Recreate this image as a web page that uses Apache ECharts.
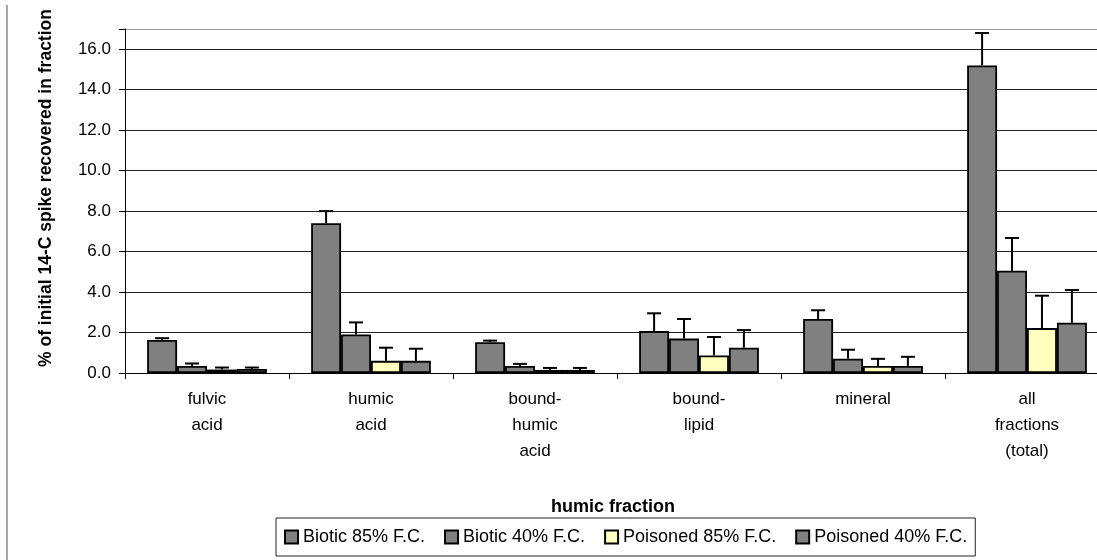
<!DOCTYPE html>
<html>
<head>
<meta charset="utf-8">
<script src="https://cdn.jsdelivr.net/npm/echarts@6/dist/echarts.min.js"></script>
<style>
  html, body { margin: 0; padding: 0; background: #fff; overflow: hidden; }
  /* the plot area runs a little past the right edge of the picture, as in the original */
  #item { width: 1109px; height: 560px; }
</style>
</head>
<body>
<div id="item"></div>
<script>
/** Data */
var categories = ['fulvic\nacid', 'humic\nacid', 'bound-\nhumic\nacid', 'bound-\nlipid', 'mineral', 'all\nfractions\n(total)'];
var seriesNames = ['Biotic 85% F.C.', 'Biotic 40% F.C.', 'Poisoned 85% F.C.', 'Poisoned 40% F.C.'];
var biotic85 = [1.63, 7.4, 1.52, 2.07, 2.67, 15.2];
var biotic40 = [0.35, 1.9, 0.35, 1.7, 0.71, 5.05];
var poisoned85 = [0.17, 0.6, 0.15, 0.87, 0.35, 2.22];
var poisoned40 = [0.2, 0.6, 0.15, 1.25, 0.35, 2.48];
// upper error (+) for each bar
var biotic85Err = [0.09, 0.6, 0.08, 0.88, 0.43, 1.6];
var biotic40Err = [0.12, 0.6, 0.1, 0.97, 0.44, 1.62];
var poisoned85Err = [0.1, 0.65, 0.1, 0.91, 0.35, 1.6];
var poisoned40Err = [0.07, 0.6, 0.1, 0.87, 0.45, 1.62];
var yTicks = [0, 2, 4, 6, 8, 10, 12, 14, 16];

(function(){
  var FONT = 'Liberation Sans, Arial, sans-serif';
  var GAP = 0.27;
  var values = [biotic85, biotic40, poisoned85, poisoned40];
  var errors = [biotic85Err, biotic40Err, poisoned85Err, poisoned40Err];
  var colors = ['#808080', '#808080', '#ffffc0', '#808080'];

  var series = [];
  values.forEach(function(vals, k) {
    series.push({
      name: seriesNames[k],
      type: 'bar',
      data: vals,
      barGap: '0%',
      barCategoryGap: (GAP * 100) + '%',
      itemStyle: { color: colors[k], borderColor: '#000', borderWidth: 1.8 }
    });
  });

  /** error bars, only the upper half like the original */
  values.forEach(function(vals, k) {
    series.push({
      type: 'custom',
      z: 5,
      data: vals.map(function(v, i) { return [i, v, errors[k][i]]; }),
      renderItem: function(params, api) {
        var x = api.value(0), v = api.value(1), e = api.value(2);
        var band = api.size([1, 0])[0];
        var bw = band * (1 - GAP) / 4;
        var base = api.coord([x, v]);
        var top = api.coord([x, v + e]);
        var cx = base[0] + (k - 1.5) * bw;
        var st = { stroke: '#000', lineWidth: 2 };
        return {
          type: 'group',
          children: [
            { type: 'line', shape: { x1: cx, y1: base[1], x2: cx, y2: top[1] }, style: st },
            { type: 'line', shape: { x1: cx - 7, y1: top[1], x2: cx + 7, y2: top[1] }, style: st }
          ]
        };
      }
    });
  });

  var splitColors = yTicks.map(function() { return '#222'; });
  splitColors.push('#999');

  var option = {
    backgroundColor: '#fff',
    animation: false,
    textStyle: { fontFamily: FONT, color: '#000' },
    grid: { left: 125, top: 29, bottom: 187, right: 0 },
    legend: {
      data: seriesNames,
      left: 276,
      top: 518,
      padding: [10, 8],
      itemGap: 19,
      itemWidth: 13,
      itemHeight: 13,
      icon: 'rect',
      borderColor: '#222',
      borderWidth: 1,
      textStyle: { fontFamily: FONT, fontSize: 18, color: '#000' }
    },
    xAxis: {
      type: 'category',
      data: categories,
      axisLine: { lineStyle: { color: '#000', width: 1 } },
      axisTick: { show: true, length: 6, lineStyle: { color: '#000' } },
      axisLabel: { fontFamily: FONT, fontSize: 17, color: '#000', lineHeight: 26, margin: 13, interval: 0 }
    },
    yAxis: {
      type: 'value',
      min: 0,
      max: 17,
      interval: 2,
      axisLine: { show: true, lineStyle: { color: '#000', width: 1 } },
      axisTick: { show: true, length: 6, lineStyle: { color: '#000' } },
      axisLabel: {
        fontFamily: FONT, fontSize: 17, color: '#000', margin: 14,
        formatter: function(v) { return yTicks.indexOf(v) >= 0 ? v.toFixed(1) : ''; }
      },
      splitLine: { show: true, lineStyle: { color: splitColors, width: 1 } }
    },
    graphic: [
      { type: 'line', shape: { x1: 7, y1: 5, x2: 7, y2: 560 }, style: { stroke: '#888', lineWidth: 1.5 } },
      {
        type: 'text', x: 46, y: 188, rotation: Math.PI / 2,
        style: { text: '% of initial 14-C spike recovered in fraction', fontFamily: FONT, fontSize: 17.5, fontWeight: 'bold', fill: '#000', align: 'center', verticalAlign: 'middle' }
      },
      {
        type: 'text', x: 613, y: 507,
        style: { text: 'humic fraction', fontFamily: FONT, fontSize: 18, fontWeight: 'bold', fill: '#000', align: 'center', verticalAlign: 'middle' }
      }
    ],
    series: series
  };

  echarts.init(document.getElementById('item')).setOption(option);
})();
</script>
</body>
</html>
